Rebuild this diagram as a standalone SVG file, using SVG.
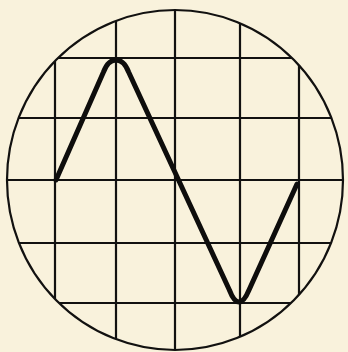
<svg xmlns="http://www.w3.org/2000/svg" width="348" height="352" viewBox="0 0 348 352">
<defs>
<style>
.grid{stroke:#121110;stroke-width:2.2;fill:none}
.screen{stroke:#121110;stroke-width:2.2;fill:none}
.wave{stroke:#0e0d0c;stroke-width:5;fill:none;stroke-linejoin:round;stroke-linecap:round}
</style>
<clipPath id="clip"><ellipse cx="175" cy="180" rx="168" ry="170"/></clipPath>
</defs>
<rect width="348" height="352" fill="#f9f2dc"/>
<g id="grid" clip-path="url(#clip)">
<line class="grid" x1="55" y1="0" x2="55" y2="352"/>
<line class="grid" x1="116" y1="0" x2="116" y2="352"/>
<line class="grid" x1="175" y1="0" x2="175" y2="352"/>
<line class="grid" x1="240" y1="0" x2="240" y2="352"/>
<line class="grid" x1="299" y1="0" x2="299" y2="352"/>
<line class="grid" x1="0" y1="58" x2="348" y2="58"/>
<line class="grid" x1="0" y1="118" x2="348" y2="118"/>
<line class="grid" x1="0" y1="180" x2="348" y2="180"/>
<line class="grid" x1="0" y1="243" x2="348" y2="243"/>
<line class="grid" x1="0" y1="303" x2="348" y2="303"/>
</g>
<g id="screen"><ellipse class="screen" cx="175" cy="180" rx="168" ry="170"/></g>
<g id="waveform">
<path class="wave" d="M56,180 L103.5,72 Q108,60 116,60 Q124,60 128.6,72 L229.4,290 Q234,302 239,302 Q244,302 249,290 L297,184"/>
</g>
</svg>
